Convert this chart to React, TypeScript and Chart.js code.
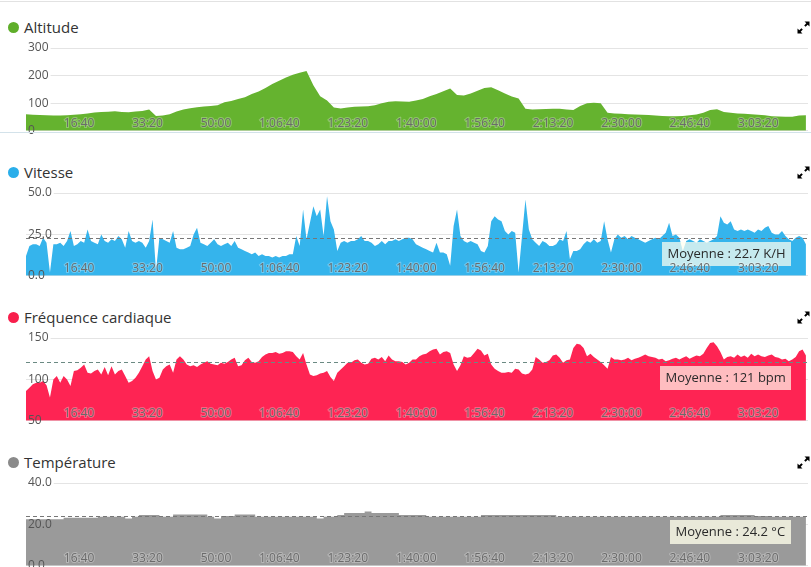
import React, { useEffect, useRef } from 'react';
import { Chart, registerables } from 'chart.js';

Chart.register(...registerables);
Chart.defaults.font.family = '"Open Sans", sans-serif';

// ---------- data ----------
const X_MAX = 11430; // seconds
const xTickValues = [1000, 2000, 3000, 4000, 5000, 6000, 7000, 8000, 9000, 10000, 11000];

const ALT_STEP = 100;
const altitude = [
  60, 58, 57, 56, 55, 55, 56, 58, 60, 63,
  66, 68, 69, 71, 68, 67, 70, 72, 77, 54,
  55, 60, 70, 77, 82, 85, 88, 90, 93, 103,
  108, 115, 122, 133, 142, 155, 170, 181, 193, 203,
  210, 217, 165, 125, 110, 84, 81, 84, 87, 88,
  89, 93, 100, 105, 107, 106, 105, 110, 115, 125,
  133, 143, 153, 130, 128, 135, 145, 155, 158, 147,
  135, 124, 117, 80, 77, 78, 79, 80, 80, 77,
  75, 90, 100, 102, 100, 65, 63, 62, 60, 59,
  58, 57, 55, 54, 53, 53, 54, 56, 59, 65,
  75, 78, 68, 65, 63, 62, 60, 58, 56, 53,
  52, 51, 51, 55, 56,
];

const SPEED_STEP = 50;
const speed = [
  12, 18, 19, 19, 18, 23, 20, 2, 19, 19,
  20, 18, 21, 27, 18, 19, 21, 20, 28, 21,
  20, 19, 25, 21, 20, 22, 21, 24, 22, 17,
  27, 21, 20, 21, 20, 17, 21, 34, 3, 23,
  22, 21, 20, 27, 17, 16, 16, 17, 18, 25,
  29, 20, 19, 18, 20, 22, 19, 18, 19, 20,
  18, 21, 17, 16, 15, 14, 13, 14, 12, 13,
  12, 12, 11, 12, 11, 12, 12, 13, 13, 24,
  18, 40, 22, 32, 42, 36, 40, 24, 48, 33,
  28, 15, 20, 21, 20, 21, 21, 22, 24, 21,
  21, 20, 18, 19, 21, 19, 21, 21, 22, 21,
  22, 23, 23, 22, 19, 18, 17, 16, 15, 14,
  20, 14, 14, 13, 6, 30, 40, 24, 21, 20,
  21, 20, 19, 15, 14, 18, 33, 36, 34, 33,
  27, 25, 27, 26, 2, 24, 46, 28, 22, 20,
  18, 21, 20, 18, 18, 19, 22, 21, 27, 10,
  15, 15, 16, 19, 21, 20, 22, 20, 21, 33,
  22, 14, 22, 25, 23, 24, 22, 24, 23, 22,
  21, 20, 21, 22, 23, 22, 24, 26, 32, 24,
  25, 23, 15, 21, 22, 21, 20, 22, 21, 20,
  21, 22, 24, 36, 32, 31, 33, 28, 27, 28,
  27, 28, 27, 26, 28, 27, 29, 30, 26, 25,
  25, 27, 24, 22, 21, 23, 24, 23, 19,
];

const HR_STEP = 50;
const heartRate = [
  86, 90, 94, 96, 96, 98, 93, 78, 100, 104,
  96, 104, 100, 92, 110, 111, 114, 118, 108, 107,
  110, 112, 106, 115, 105, 116, 106, 110, 112, 104,
  96, 98, 102, 108, 116, 124, 128, 110, 100, 102,
  112, 116, 118, 108, 124, 128, 124, 118, 116, 117,
  115, 118, 120, 122, 119, 118, 117, 120, 119, 121,
  124, 126, 116, 117, 123, 126, 121, 120, 122, 127,
  130, 132, 132, 133, 131, 132, 134, 134, 133, 128,
  124, 132, 118, 106, 104, 105, 107, 108, 110, 103,
  98, 108, 112, 116, 120, 120, 123, 124, 120, 118,
  119, 125, 126, 124, 127, 122, 129, 124, 122, 122,
  121, 118, 120, 124, 124, 128, 130, 131, 134, 136,
  137, 130, 133, 134, 132, 118, 110, 117, 128, 126,
  127, 132, 137, 135, 129, 131, 118, 113, 110, 108,
  108, 109, 108, 113, 112, 107, 106, 107, 112, 127,
  124, 120, 121, 123, 129, 130, 126, 120, 123, 124,
  138, 143, 142, 138, 128, 131, 127, 124, 121, 117,
  113, 127, 124, 124, 123, 124, 126, 123, 125, 126,
  128, 130, 128, 127, 126, 124, 125, 122, 123, 125,
  126, 124, 126, 128, 125, 127, 129, 128, 131, 138,
  144, 145, 140, 133, 124, 127, 128, 126, 130, 127,
  129, 126, 131, 128, 130, 128, 127, 129, 130, 127,
  126, 124, 125, 122, 124, 127, 134, 136, 129,
];

const TEMP_STEP = 100;
const temperature = [
  22.5, 22.5, 22.5, 22.5, 22.5, 22.5, 23.2, 23.2, 23.2, 23.2,
  23.2, 23.7, 23.7, 23.7, 23.7, 22.8, 23.7, 24.6, 24.6, 24.6,
  23.7, 23.7, 24.8, 24.8, 24.8, 24.8, 24.8, 23.7, 22.8, 24.0,
  24.0, 24.8, 24.8, 24.8, 23.7, 23.7, 23.7, 23.7, 23.7, 23.7,
  23.7, 23.7, 23.7, 22.8, 23.7, 23.7, 24.5, 25.5, 25.5, 25.5,
  26.2, 25.5, 25.5, 25.5, 25.5, 24.6, 24.6, 24.6, 24.6, 23.7,
  23.7, 23.7, 23.7, 23.7, 23.7, 23.7, 23.7, 24.6, 24.6, 24.6,
  24.6, 24.6, 24.6, 24.6, 24.6, 24.6, 24.6, 24.6, 23.7, 23.7,
  23.7, 23.7, 23.7, 23.7, 23.7, 23.7, 23.7, 23.7, 23.7, 23.7,
  23.7, 23.7, 23.7, 23.7, 23.7, 23.7, 23.7, 23.7, 23.7, 23.7,
  23.7, 23.7, 24.6, 24.6, 24.6, 24.6, 24.6, 24.0, 24.0, 23.7,
  23.7, 23.7, 23.7, 23.7, 23.7,
];

const speedAverage = 22.7;
const heartRateAverage = 121;
const temperatureAverage = 24.2;

// ---------- helpers ----------
const pad2 = (n: number) => (n < 10 ? '0' + n : '' + n);
function fmtTime(s: number) {
  const h = Math.floor(s / 3600);
  const m = Math.floor((s % 3600) / 60);
  const sec = Math.round(s % 60);
  return h > 0 ? `${h}:${pad2(m)}:${pad2(sec)}` : `${m}:${pad2(sec)}`;
}

const avgPlugin = {
  id: 'avgLine',
  afterDatasetsDraw(chart: any, _args: any, opts: any) {
    if (!opts || opts.value == null) return;
    const { ctx, chartArea } = chart;
    const y = chart.scales.y;
    const py = Math.round(y.getPixelForValue(opts.value)) + 0.5;
    ctx.save();
    ctx.setLineDash([4, 3]);
    ctx.strokeStyle = opts.lineColor;
    ctx.lineWidth = 1;
    ctx.beginPath();
    ctx.moveTo(chartArea.left, py);
    ctx.lineTo(chartArea.right, py);
    ctx.stroke();
    ctx.setLineDash([]);
    ctx.font = '13px "Open Sans", sans-serif';
    const tw = ctx.measureText(opts.text).width;
    const w = Math.round(tw + 11);
    const h = 24;
    const x = Math.round(chartArea.right - 17 - w);
    const top = Math.round(py + 3);
    ctx.fillStyle = opts.bg;
    ctx.fillRect(x, top, w, h);
    ctx.fillStyle = '#2a2a2a';
    ctx.textBaseline = 'middle';
    ctx.textAlign = 'left';
    ctx.fillText(opts.text, x + 5.5, top + h / 2 + 0.5);
    ctx.restore();
  },
};

// time labels drawn inside the plot, right-aligned on their x-scale position
const timeLabelPlugin = {
  id: 'timeLabels',
  afterDraw(chart: any, _args: any, opts: any) {
    const { ctx, chartArea } = chart;
    const xs = chart.scales.x;
    ctx.save();
    ctx.font = '12px "Open Sans", sans-serif';
    ctx.textAlign = 'right';
    ctx.textBaseline = 'alphabetic';
    const y = chartArea.bottom - (opts.offset || 3.5);
    for (const v of xTickValues) {
      const px = xs.getPixelForValue(v);
      const label = fmtTime(v);
      ctx.lineWidth = 2;
      ctx.strokeStyle = 'rgba(255,255,255,0.28)';
      ctx.strokeText(label, px, y);
      ctx.fillStyle = '#6b6b6b';
      ctx.fillText(label, px, y);
    }
    ctx.restore();
  },
};

type PanelCfg = {
  title: string;
  color: string;
  dot: string;
  values: number[];
  step: number;
  min: number;
  max: number;
  yStep: number;
  decimals: number;
  bgFrom: number;
  stepped?: boolean;
  labelOffset: number;
  avg?: { value: number; text: string; lineColor: string; bg: string };
};

const PANELS: PanelCfg[] = [
  {
    title: 'Altitude', color: '#65b32f', dot: '#5fae2a', values: altitude, step: ALT_STEP,
    min: 0, max: 300, yStep: 100, decimals: 0, bgFrom: 100, labelOffset: 3.5,
  },
  {
    title: 'Vitesse', color: '#35b4ec', dot: '#2aaeea', values: speed, step: SPEED_STEP,
    min: 0, max: 50, yStep: 25, decimals: 1, bgFrom: 50, labelOffset: 4,
    avg: { value: speedAverage, text: 'Moyenne : 22.7 K/H', lineColor: '#777', bg: 'rgba(255,255,240,0.72)' },
  },
  {
    title: 'Fréquence cardiaque', color: '#fe2453', dot: '#f81f4c', values: heartRate, step: HR_STEP,
    min: 50, max: 150, yStep: 50, decimals: 0, bgFrom: 150, labelOffset: 4,
    avg: { value: heartRateAverage, text: 'Moyenne : 121 bpm', lineColor: '#6b8a83', bg: 'rgba(255,255,240,0.7)' },
  },
  {
    title: 'Température', color: '#9a9a9a', dot: '#8a8a8a', values: temperature, step: TEMP_STEP,
    min: 0, max: 40, yStep: 20, decimals: 1, bgFrom: 40, stepped: true, labelOffset: 4,
    avg: { value: temperatureAverage, text: 'Moyenne : 24.2 °C', lineColor: '#777', bg: 'rgba(255,255,235,0.78)' },
  },
];

const PITCH = 145;

function Panel({ cfg, k }: { cfg: PanelCfg; k: number }) {
  const ref = useRef<HTMLCanvasElement>(null);
  useEffect(() => {
    const data = cfg.values.map((v, i) => ({ x: i * cfg.step, y: v }));
    const chart = new Chart(ref.current as HTMLCanvasElement, {
      type: 'line',
      data: {
        datasets: [
          {
            data,
            borderWidth: 0,
            borderColor: cfg.color,
            backgroundColor: cfg.color,
            fill: 'start',
            pointRadius: 0,
            tension: 0,
            stepped: cfg.stepped ? 'middle' : false,
          } as any,
        ],
      },
      options: {
        animation: false,
        responsive: false,
        devicePixelRatio: 1,
        events: [],
        layout: { padding: { left: 26, right: 3, top: 10, bottom: 8 } },
        plugins: {
          legend: { display: false },
          tooltip: { enabled: false },
          avgLine: cfg.avg ? cfg.avg : false,
          timeLabels: { offset: cfg.labelOffset },
        } as any,
        scales: {
          x: {
            type: 'linear',
            display: false,
            min: 0,
            max: X_MAX,
          } as any,
          y: {
            min: cfg.min,
            max: cfg.max,
            grid: { color: '#e4e4e4', drawTicks: false },
            border: { display: false },
            afterFit: (s: any) => { s.width = 0; },
            ticks: {
              stepSize: cfg.yStep,
              mirror: true,
              padding: 2,
              z: 1,
              color: '#555',
              font: { size: 12, family: '"Open Sans", sans-serif' },
              showLabelBackdrop: true,
              backdropPadding: 2,
              backdropColor: (c: any) => (c.tick && c.tick.value >= cfg.bgFrom ? '#ffffff' : 'rgba(0,0,0,0)'),
              callback: (v: any) => Number(v).toFixed(cfg.decimals),
            },
          } as any,
        },
      },
      plugins: [avgPlugin as any, timeLabelPlugin as any],
    });
    return () => chart.destroy();
  }, []);

  const off = k * PITCH;
  return (
    <>
      <div style={{ position: 'absolute', left: 8, top: 22 + off, width: 11, height: 11, borderRadius: '50%', background: cfg.dot }} />
      <div style={{ position: 'absolute', left: 24, top: 17 + off, fontSize: 15, lineHeight: '20px', color: '#333', whiteSpace: 'nowrap' }}>
        {cfg.title}
      </div>
      <svg width="13" height="13" viewBox="0 0 13 13" style={{ position: 'absolute', left: 797, top: 21 + off }}>
        <path d="M7.5 0.5 H12.5 V5.5 L10.7 3.7 L8.6 5.8 L7.2 4.4 L9.3 2.3 Z" fill="#000" />
        <path d="M0.5 7.5 V12.5 H5.5 L3.7 10.7 L5.8 8.6 L4.4 7.2 L2.3 9.3 Z" fill="#000" />
      </svg>
      <canvas
        ref={ref}
        width={811}
        height={102}
        style={{ position: 'absolute', left: 0, top: 38 + off, width: 811, height: 102 }}
      />
    </>
  );
}

export default function App() {
  return (
    <div
      style={{
        position: 'absolute', left: 0, top: 0, width: 811, height: 567, overflow: 'hidden',
        background: '#fff', fontFamily: '"Open Sans", sans-serif',
      }}
    >
      <div style={{ position: 'absolute', left: 0, top: 1, width: 811, height: 1, background: '#e2e2e2' }} />
      {PANELS.map((p, k) => (
        <Panel key={k} cfg={p} k={k} />
      ))}
      <div style={{ position: 'absolute', left: 0, top: 132, width: 811, height: 1, background: '#d3e2ea' }} />
    </div>
  );
}
